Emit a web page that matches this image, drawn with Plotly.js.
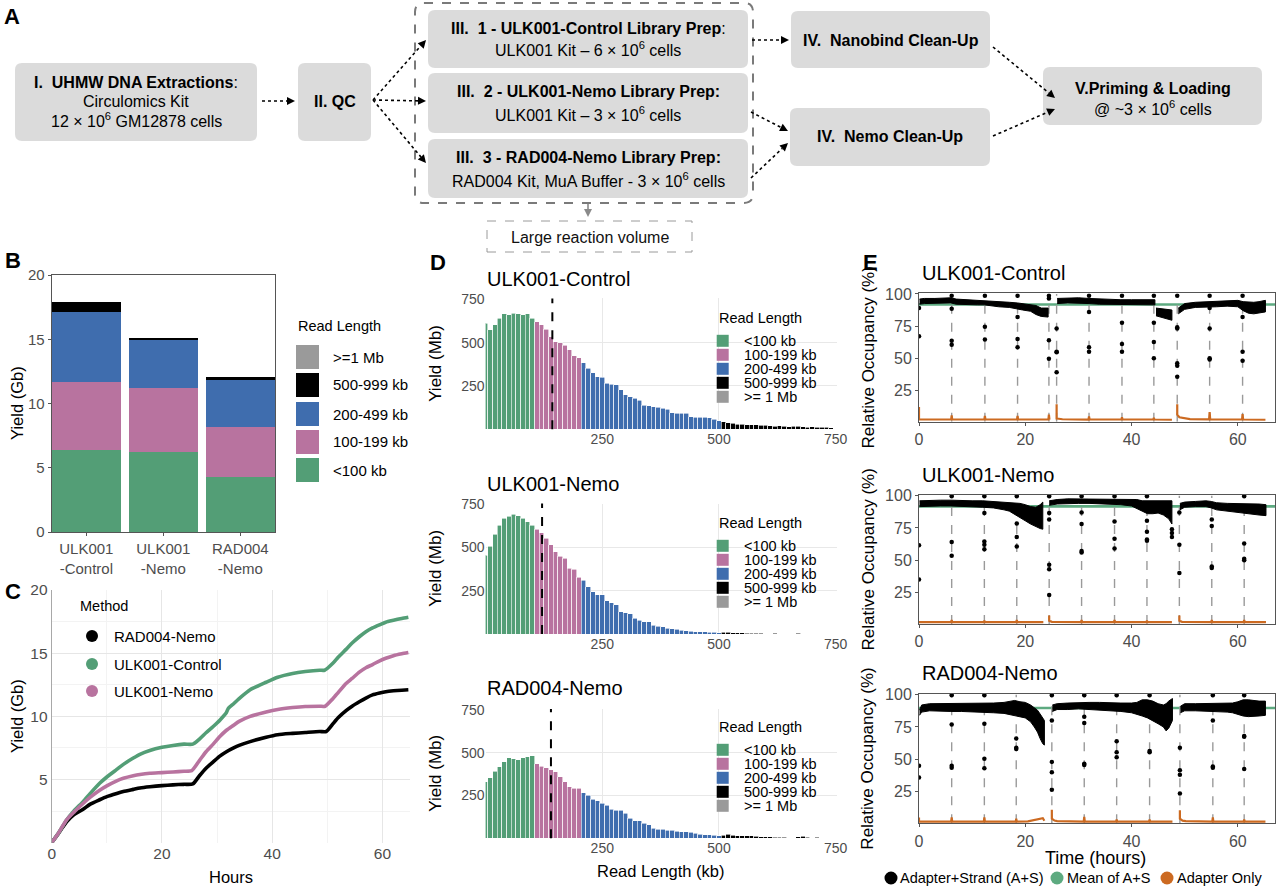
<!DOCTYPE html>
<html>
<head>
<meta charset="utf-8">
<script src="https://cdn.plot.ly/plotly-3.0.1.min.js"></script>
<style>
  html, body { margin: 0; padding: 0; background: #ffffff; }
  #fig { width: 1280px; height: 891px; }
</style>
</head>
<body>
<div id="fig"></div>
<script>
// ---------------- Panel B: total yield per read-length class (Gb) ----------------
const samples = ['ULK001<br>-Control', 'ULK001<br>-Nemo', 'RAD004<br>-Nemo'];
const yieldLt100 = [6.38, 6.25, 4.30];
const yield100to199 = [5.32, 4.98, 3.85];
const yield200to499 = [5.40, 3.71, 3.68];
const yield500to999 = [0.78, 0.13, 0.26];
const yieldGe1Mb = [0.0, 0.0, 0.0];
const classLabelsB = ['>=1 Mb', '500-999 kb', '200-499 kb', '100-199 kb', '<100 kb'];

// ---------------- Panel C: cumulative yield over the run (Gb) ----------------
const methodNames = ['RAD004-Nemo', 'ULK001-Control', 'ULK001-Nemo'];
const radHours = [0, 1, 2.7, 4, 5.7, 7, 8.7, 10, 11.8, 13, 14.8, 16, 17.8, 20, 22, 24, 25.6, 26.8, 28, 29.3, 30.5, 31.7, 33, 34, 36, 38.9, 41, 43.7, 46, 48.6, 49.8, 51, 52, 53.4, 54.5, 55.8, 57, 58.2, 59.5, 60.6, 62, 63.5, 64.7];
const radYield = [0, 0.6, 1.65, 2.2, 2.65, 3.05, 3.4, 3.65, 3.9, 4.05, 4.22, 4.33, 4.43, 4.52, 4.58, 4.62, 4.65, 5.3, 5.9, 6.4, 6.85, 7.2, 7.5, 7.7, 8.0, 8.35, 8.55, 8.65, 8.72, 8.8, 8.8, 9.4, 9.9, 10.45, 10.8, 11.15, 11.45, 11.7, 11.85, 11.95, 12.02, 12.07, 12.1];
const ctrlHours = [0, 1, 2.7, 4, 5.7, 7, 8.7, 10, 11.8, 13, 14.8, 16, 17.8, 20, 22, 24, 25.6, 26.8, 28, 29.3, 30.5, 31.7, 32, 33, 34, 36, 38.9, 41, 43.7, 46, 48.6, 49.5, 51, 52, 53.4, 54.5, 55.8, 57, 58.2, 59.5, 60.6, 62, 63.5, 64.7];
const ctrlYield = [0, 0.6, 1.8, 2.5, 3.25, 3.9, 4.7, 5.2, 5.8, 6.2, 6.7, 7.0, 7.3, 7.55, 7.7, 7.8, 7.8, 8.2, 8.7, 9.2, 9.7, 10.3, 10.6, 11.0, 11.4, 12.1, 12.7, 13.1, 13.4, 13.55, 13.65, 13.65, 14.2, 14.7, 15.3, 15.8, 16.3, 16.7, 17.0, 17.25, 17.45, 17.6, 17.75, 17.85];
const nemoHours = [0, 1, 2.7, 4, 5.7, 7, 8.7, 10, 11.8, 13, 14.8, 16, 17.8, 20, 22, 24, 25.4, 26.8, 28, 29.3, 30.5, 31.7, 33, 34, 36, 38.9, 41, 43.7, 46, 48.6, 49.6, 51, 52, 53.4, 54.5, 55.8, 57, 58.2, 59.5, 60.6, 62, 63.5, 64.7];
const nemoYield = [0, 0.6, 1.8, 2.4, 3.1, 3.6, 4.15, 4.5, 4.9, 5.1, 5.3, 5.4, 5.5, 5.55, 5.6, 5.65, 5.7, 6.5, 7.2, 7.8, 8.4, 8.9, 9.3, 9.6, 10.0, 10.35, 10.55, 10.7, 10.78, 10.8, 10.8, 11.4, 11.9, 12.6, 13.0, 13.5, 13.85, 14.1, 14.4, 14.6, 14.8, 14.95, 15.05];

// ---------------- Panel D: read-length histograms (Mb per 10 kb bin) ----------------
const binWidthKb = 10;
const classStartKb = [0, 110, 210, 510];
const classLabelsD = ['<100 kb', '100-199 kb', '200-499 kb', '500-999 kb', '>= 1 Mb'];
const ctrlHistLt100 = [611, 573, 602, 640, 665, 660, 669, 665, 660, 665, 640];
const ctrlHist100to199 = [621, 602, 577, 535, 506, 500, 486, 458, 423, 413];
const ctrlHist200to499 = [385, 352, 327, 304, 300, 265, 260, 256, 227, 198, 188, 179, 169, 140, 135, 131, 127, 121, 115, 96, 92, 92, 92, 73, 69, 69, 69, 67, 58, 48];
const ctrlHist500to999 = [44, 38, 35, 29, 29, 25, 27, 25, 23, 23, 21, 19, 21, 19, 15, 17, 19, 15, 13, 15, 12, 13, 12, 10];
const nemoHistLt100 = [457, 509, 576, 630, 669, 682, 694, 684, 669, 650, 630];
const nemoHist100to199 = [605, 586, 553, 515, 476, 451, 438, 380, 374, 328];
const nemoHist200to499 = [312, 274, 245, 226, 226, 191, 181, 168, 129, 123, 116, 91, 81, 71, 71, 52, 46, 42, 33, 29, 27, 23, 19, 17, 13, 13, 12, 10, 10, 8];
const nemoHist500to999 = [10, 10, 6, 6, 6, 4, 4, 4, 4, 2, 2, 3, 2, 2, 1, 2, 3, 2, 1, 1, 2, 1, 1, 1];
const radHistLt100 = [329, 355, 393, 417, 446, 471, 465, 459, 471, 475, 483];
const radHist100to199 = [436, 422, 411, 401, 388, 359, 329, 300, 291, 291];
const radHist200to499 = [266, 252, 227, 219, 204, 194, 169, 165, 165, 145, 116, 103, 103, 87, 78, 58, 52, 52, 48, 48, 41, 39, 39, 35, 29, 25, 21, 21, 19, 16];
const radHist500to999 = [19, 25, 19, 16, 14, 14, 14, 12, 10, 8, 8, 6, 6, 6, 4, 4, 10, 12, 6, 4, 6, 4, 4, 2];
const readN50Kb = [143, 121, 140];

// ---------------- Panel E: pore occupancy (%) ----------------
const meanOccupancy = [91.8, 91.7, 89.7];
const ctrlScanHours = [6.15, 12.4, 18.55, 24.45, 25.9, 32.0, 38.2, 44.2, 48.6, 54.7, 60.9];
const nemoScanHours = [6.15, 12.3, 18.4, 24.5, 30.6, 36.8, 42.9, 49.0, 55.1, 61.2];
const radScanHours = [6.15, 12.3, 18.3, 25.0, 31.1, 37.2, 43.4, 49.1, 55.3, 61.2];

// band of adapter+strand occupancy: upper / lower edges per run segment
const ctrlBandT = [
  [0.1, 1, 3, 5, 6, 7, 9, 11, 12.3, 13, 15, 17, 18.5, 19.5, 21, 22, 23, 24.3],
  [26, 28, 30, 32, 34, 36, 38, 40, 42, 44.4],
  [44.6, 45.5, 46.5, 47.6],
  [48.8, 50, 52, 54, 56, 58, 60, 61, 62, 63, 64, 65.2]];
const ctrlBandHi = [
  [96, 96.5, 96.5, 97, 97, 96, 95.5, 95.5, 95, 94.5, 94, 93.5, 93, 92.5, 92, 91, 89, 89],
  [96.5, 97, 97, 96.5, 96, 96, 95.5, 95.5, 95.5, 95.5],
  [89, 88.5, 88, 87.5],
  [89, 92.5, 93.5, 94, 94.5, 94.5, 95, 94, 93.5, 93.5, 94, 95]];
const ctrlBandLo = [
  [92, 92.5, 93, 93, 93, 92, 92, 91.5, 91.5, 91, 90, 89.5, 88.5, 87.5, 86.5, 84, 82.5, 82],
  [92.5, 93, 93, 92.5, 92, 92, 91.5, 91.5, 91.5, 91.5],
  [83, 82, 81, 79.5],
  [84.5, 88, 89.5, 90, 90, 90.5, 90, 87, 85, 84.5, 85, 86]];
const nemoBandT = [
  [0.1, 2, 4, 6, 8, 10, 12, 14, 16, 17, 18, 19, 20, 21, 22, 22.8, 23.3],
  [24.5, 26, 28, 30, 32, 34, 36, 38, 40, 41, 42, 43, 44, 45, 46, 47, 47.6],
  [49.1, 50, 52, 54, 55, 56, 58, 60, 62, 64, 65.3]];
const nemoBandHi = [
  [96, 96.5, 96.5, 96.5, 96, 96, 96, 95.5, 95, 95, 94.5, 94, 93, 91.5, 91, 93, 95],
  [96, 97, 97.5, 97.5, 97.5, 97.5, 97.5, 97.5, 97, 97, 96, 96, 95.5, 96, 96, 96, 96],
  [94, 95, 95.5, 96, 95.5, 94.5, 94, 94, 93.5, 93.5, 93]];
const nemoBandLo = [
  [91.5, 92, 92, 92, 91.5, 91.5, 91, 90.5, 89, 88, 86, 83, 80.5, 78, 76, 74.5, 74],
  [92.5, 93.5, 94, 94, 94, 93.5, 93.5, 93, 92, 90, 88, 86, 86, 86.5, 85, 82, 78],
  [89, 91, 91.5, 91.5, 90.5, 89, 88, 87, 86, 85, 84.5]];
const radBandT = [
  [0.1, 0.5, 2, 4, 6, 8, 10, 12, 14, 16, 17, 18, 19, 20, 21, 21.7, 22.3, 22.8, 23.3, 23.6],
  [25.1, 26, 28, 30, 32, 34, 36, 38, 40, 41, 42, 43, 44, 45, 46, 46.5, 47, 47.7],
  [49.2, 50, 52, 54, 56, 58, 59, 60, 61, 62, 63, 64, 65.2]];
const radBandHi = [
  [88, 92, 93, 93, 93.5, 93.5, 93.5, 93.5, 93.5, 94, 95, 95.5, 94.5, 94, 92, 90, 88, 85, 82, 80],
  [92, 93, 93.5, 94, 94, 94, 93.5, 93.5, 93.5, 94, 96, 96, 95, 93, 92, 93, 95, 97],
  [91, 93, 93, 93, 93.5, 93.5, 93.5, 94.5, 96, 96, 95.5, 95, 95]];
const radBandLo = [
  [84, 86.5, 87.5, 87.5, 87, 87, 87, 86.5, 86, 85.5, 84.5, 84, 83, 82, 79, 75, 71, 66, 62, 61],
  [87, 88.5, 88.5, 89, 88.5, 88, 87.5, 87, 86, 85, 83.5, 82, 80, 77.5, 75, 72, 74, 80],
  [86, 87.5, 87.5, 87.5, 87, 86.5, 86, 85, 83.5, 83, 83, 83.5, 84]];

// isolated adapter+strand readings around each scan
const ctrlOutT = [0, 0, 6.15, 6.15, 6.15, 6.15, 12.4, 12.4, 12.4, 18.55, 18.55, 18.55, 18.55, 24.45, 24.45, 24.45, 24.45, 25.9, 25.9, 25.9, 25.9, 32, 32, 32, 32, 38.2, 38.2, 38.2, 38.2, 44.2, 44.2, 44.2, 44.2, 48.6, 48.6, 48.6, 48.6, 48.6, 48.6, 54.7, 54.7, 54.7, 54.7, 54.7, 60.9, 60.9, 60.9, 60.9];
const ctrlOutV = [89, 67, 98.5, 88.5, 63.5, 60.5, 98.5, 74.5, 64.5, 98.5, 82, 65, 58.5, 98.5, 96.5, 64, 49.5, 73, 55, 54.5, 39, 98.5, 86, 58.5, 55, 98.5, 77.5, 61, 55, 98.5, 77.5, 62.5, 50, 98.5, 74, 73, 46, 44, 35.5, 98.5, 89, 73, 50, 49, 98.5, 82, 55, 48];
const nemoOutT = [0, 0, 6.15, 6.15, 6.15, 12.3, 12.3, 12.3, 12.3, 12.3, 18.4, 18.4, 18.4, 18.4, 24.5, 24.5, 24.5, 24.5, 24.5, 24.5, 30.6, 30.6, 30.6, 30.6, 30.6, 36.8, 36.8, 36.8, 36.8, 42.9, 42.9, 42.9, 42.9, 42.9, 47.6, 47.6, 47.6, 49, 49, 49, 55.1, 55.1, 55.1, 55.1, 61.2, 61.2, 61.2, 61.2];
const nemoOutV = [61.5, 35, 99.5, 64, 53.5, 99.5, 86.5, 64.5, 62, 58.5, 99.5, 78.5, 68, 60.5, 99.5, 86.5, 81.5, 46.5, 43, 23, 99.5, 87, 78, 57, 56, 99.5, 80, 66.5, 59, 99.5, 80.5, 72, 66, 65, 74, 71, 68, 87, 62, 40, 81.5, 76.5, 45, 44, 99.5, 63, 51, 50];
const radOutT = [0, 0, 6.15, 6.15, 6.15, 6.15, 12.3, 12.3, 12.3, 12.3, 18.3, 18.3, 18.3, 25, 25, 25, 25, 25, 31.1, 31.1, 31.1, 31.1, 31.1, 37.2, 37.2, 37.2, 37.2, 43.4, 43.4, 43.4, 49.1, 49.1, 49.1, 49.1, 55.3, 55.3, 55.3, 55.3, 61.2, 61.2, 61.2, 61.2];
const radOutV = [45, 36, 99.5, 77, 45, 43.5, 99.5, 77.5, 50.5, 43, 66, 59, 58, 99.5, 80, 48, 40, 26.5, 99.5, 83, 78, 46.5, 45.5, 99.5, 64, 55.5, 51.5, 99.5, 56.5, 55.5, 59, 41.5, 38, 23.5, 99.5, 80, 44.5, 43.5, 99.5, 68, 67.5, 42.5];

// adapter-only occupancy
const ctrlAdT = [0, 0, 0.4, 6.05, 6.15, 6.25, 12.3, 12.4, 12.5, 18.45, 18.55, 18.65, 24.35, 24.45, 24.55, null, 25.9, 25.9, 26.3, 27, 31.9, 32.0, 32.1, 38.1, 38.2, 38.3, 44.1, 44.2, 44.3, 47.6, null, 48.6, 48.6, 49, 50, 51, 54.6, 54.7, 54.8, 60.8, 60.9, 61.0, 65.2];
const ctrlAdV = [12, 2.2, 2.2, 2.2, 5.5, 2.2, 2.2, 5, 2.2, 2.2, 5, 2.2, 2.2, 6, 2.2, null, 14, 3, 2.8, 2.4, 2.2, 4.5, 2.2, 2.2, 4, 2.2, 2.2, 3.5, 2.2, 2, null, 14, 6, 4, 3, 2.5, 2.3, 8, 2.3, 2.2, 6.5, 2.2, 2];
const nemoAdT = [0, 6.05, 6.15, 6.25, 12.2, 12.3, 12.4, 18.3, 18.4, 18.5, 23.4, null, 24.5, 24.5, 25, 30.5, 30.6, 30.7, 36.7, 36.8, 36.9, 42.8, 42.9, 43.0, 47.6, null, 49.0, 49.0, 49.5, 55.0, 55.1, 55.2, 61.1, 61.2, 61.3, 65.3];
const nemoAdV = [2, 2, 3.5, 2, 2, 3, 2, 2, 3.5, 2, 2, null, 7, 3, 2.2, 2, 3.5, 2, 2, 3.5, 2, 2, 3, 2, 2, null, 7, 3, 2.2, 2, 3.5, 2, 2, 3.5, 2, 2];
const radAdT = [0, 0, 0.3, 6.05, 6.15, 6.25, 12.2, 12.3, 12.4, 18.2, 18.3, 18.4, 20.5, 21.5, 22.5, 23.3, 23.6, null, 25.0, 25.0, 25.5, 26, 31.0, 31.1, 31.2, 37.1, 37.2, 37.3, 43.3, 43.4, 43.5, 47.7, null, 49.1, 49.1, 49.6, 50.2, 55.2, 55.3, 55.4, 61.1, 61.2, 61.3, 65.2];
const radAdV = [5, 1.8, 1.8, 1.8, 5, 1.8, 1.8, 5, 1.8, 1.8, 4, 1.8, 2, 3, 4, 4.5, 2.5, null, 11, 4, 2.6, 2.2, 1.8, 5.5, 1.8, 1.8, 3.5, 1.8, 1.8, 3.5, 1.8, 1.8, null, 10.5, 4, 2.6, 2.2, 1.8, 5, 1.8, 1.8, 3.5, 1.8, 1.8];
const occupancyLegend = ['Adapter+Strand (A+S)', 'Mean of A+S', 'Adapter Only'];

// ---------------- styling ----------------
const W = 1280, H = 891;
const X = p => p / W;           // pixel column -> paper x
const Y = p => 1 - p / H;       // pixel row -> paper y
const domX = (a, b) => [X(a), X(b)];
const domY = (top, bottom) => [Y(bottom), Y(top)];

const FONT = 'Liberation Sans, Arial, Helvetica, sans-serif';
const TICK = '#4D4D4D';
const GREEN = '#539E76', PINK = '#B8739F', BLUE = '#3F6DAE', BLACK = '#000000', GRAY = '#9A9A9A';
const ORANGE = '#CC6A21', MEAN_GREEN = '#5DAA80';
const classColors = [GREEN, PINK, BLUE, BLACK, GRAY];

const traces = [];
const shapes = [];
const annotations = [];

function text(t, x, y, o = {}) {
  annotations.push(Object.assign({
    text: t, x: X(x), y: Y(y), xref: 'paper', yref: 'paper', showarrow: false,
    xanchor: 'center', yanchor: 'middle',
    font: { family: FONT, size: 15, color: '#000' }
  }, o));
}

// ---------- Panel B ----------
[yieldLt100, yield100to199, yield200to499, yield500to999, yieldGe1Mb].forEach((vals, i) => {
  traces.push({ type: 'bar', x: samples, y: vals, width: 0.9, marker: { color: classColors[i], line: { width: 0 } },
    xaxis: 'x', yaxis: 'y', hoverinfo: 'skip' });
});

// ---------- Panel C ----------
[[radHours, radYield, BLACK], [ctrlHours, ctrlYield, GREEN], [nemoHours, nemoYield, PINK]].forEach(([h, v, c]) => {
  traces.push({ type: 'scatter', mode: 'lines', x: h, y: v, line: { color: c, width: 3.6, shape: 'spline', smoothing: 0.6 },
    xaxis: 'x2', yaxis: 'y2', hoverinfo: 'skip' });
});

// ---------- Panel D ----------
const histSets = [
  [ctrlHistLt100, ctrlHist100to199, ctrlHist200to499, ctrlHist500to999],
  [nemoHistLt100, nemoHist100to199, nemoHist200to499, nemoHist500to999],
  [radHistLt100, radHist100to199, radHist200to499, radHist500to999]];
histSets.forEach((set, p) => {
  const ax = String(3 + p);
  set.forEach((vals, c) => {
    traces.push({ type: 'bar', x: vals.map((_, i) => classStartKb[c] + i * binWidthKb), y: vals,
      width: binWidthKb, marker: { color: classColors[c], line: { color: '#ffffff', width: 0.6 } },
      xaxis: 'x' + ax, yaxis: 'y' + ax, hoverinfo: 'skip' });
  });
  shapes.push({ type: 'line', xref: 'x' + ax, yref: 'y' + ax + ' domain', x0: readN50Kb[p], x1: readN50Kb[p],
    y0: 0, y1: 1, line: { color: '#000', width: 2, dash: 'dash' } });
});

// ---------- Panel E ----------
const occSets = [
  [ctrlBandT, ctrlBandHi, ctrlBandLo, ctrlOutT, ctrlOutV, ctrlAdT, ctrlAdV, ctrlScanHours],
  [nemoBandT, nemoBandHi, nemoBandLo, nemoOutT, nemoOutV, nemoAdT, nemoAdV, nemoScanHours],
  [radBandT, radBandHi, radBandLo, radOutT, radOutV, radAdT, radAdV, radScanHours]];
occSets.forEach(([bt, bh, bl, ot, ov, at, av, scans], p) => {
  const ax = String(6 + p);
  scans.forEach(s => shapes.push({ type: 'line', layer: 'below', xref: 'x' + ax, yref: 'y' + ax, x0: s, x1: s,
    y0: 0.5, y1: 100, line: { color: '#9A9A9A', width: 1.4, dash: 'dash' } }));
  shapes.push({ type: 'line', layer: 'below', xref: 'x' + ax + ' domain', yref: 'y' + ax, x0: 0, x1: 1,
    y0: meanOccupancy[p], y1: meanOccupancy[p], line: { color: MEAN_GREEN, width: 2.6 } });
  const px = [], py = [];
  bt.forEach((t, k) => {
    px.push(...t, ...t.slice().reverse(), null);
    py.push(...bh[k], ...bl[k].slice().reverse(), null);
  });
  traces.push({ type: 'scatter', mode: 'lines', x: px, y: py, fill: 'toself', fillcolor: '#000',
    line: { color: '#000', width: 1 }, xaxis: 'x' + ax, yaxis: 'y' + ax, hoverinfo: 'skip' });
  traces.push({ type: 'scatter', mode: 'markers', x: ot, y: ov, marker: { color: '#000', size: 4.5 },
    xaxis: 'x' + ax, yaxis: 'y' + ax, hoverinfo: 'skip' });
  traces.push({ type: 'scatter', mode: 'lines', x: at, y: av, line: { color: ORANGE, width: 2.2 },
    xaxis: 'x' + ax, yaxis: 'y' + ax, hoverinfo: 'skip' });
});

// ---------- axes ----------
const tickFont = (s) => ({ family: FONT, size: s, color: TICK });
const framed = (extra) => Object.assign({
  showline: true, mirror: true, linecolor: '#555', linewidth: 1, ticks: 'outside', ticklen: 3,
  tickcolor: '#555', showgrid: false, zeroline: false, fixedrange: true
}, extra);
const minimal = (extra) => Object.assign({
  showline: false, ticks: '', showgrid: true, gridcolor: '#E6E6E6', gridwidth: 1, zeroline: false, fixedrange: true
}, extra);

const layout = {
  width: W, height: H, margin: { l: 0, r: 0, t: 0, b: 0 },
  paper_bgcolor: '#ffffff', plot_bgcolor: 'rgba(0,0,0,0)',
  showlegend: false, barmode: 'stack', font: { family: FONT, color: '#000' },
  xaxis: framed({ domain: domX(51.7, 275), type: 'category', range: [-0.45, 2.45], tickfont: tickFont(15), anchor: 'y' }),
  yaxis: framed({ domain: domY(275, 532), range: [0, 20], tickvals: [0, 5, 10, 15, 20], tickfont: tickFont(15), anchor: 'x' }),
  xaxis2: minimal({ domain: domX(51.7, 410), range: [0, 65], tickvals: [0, 20, 40, 60], tickfont: tickFont(15.5), anchor: 'y2',
    minor: { tickvals: [10, 30, 50], showgrid: true, gridcolor: '#F3F3F3' } }),
  yaxis2: minimal({ domain: domY(590, 842.7), range: [0, 20], tickvals: [5, 10, 15, 20], tickfont: tickFont(15.5), anchor: 'x2',
    showline: true, linecolor: '#A8A8A8', minor: { tickvals: [2.5, 7.5, 12.5, 17.5], showgrid: true, gridcolor: '#F3F3F3' } }),
};
const dTops = [[298.4, 429.3], [503.5, 634], [709, 838.3]];
dTops.forEach(([t, b], p) => {
  const n = 3 + p;
  layout['xaxis' + n] = minimal({ domain: domX(485.6, 836.6), range: [0, 752], tickvals: [250, 500, 750],
    tickfont: tickFont(14), anchor: 'y' + n, gridcolor: '#E8E8E8' });
  layout['yaxis' + n] = minimal({ domain: domY(t, b), range: [0, 755], tickvals: [250, 500, 750],
    tickfont: tickFont(14), anchor: 'x' + n, gridcolor: '#E8E8E8' });
});
const eTops = [[293.3, 421.7], [495, 624], [694, 823.3]];
eTops.forEach(([t, b], p) => {
  const n = 6 + p;
  layout['xaxis' + n] = framed({ domain: domX(919, 1275), range: [0, 67], tickvals: [0, 20, 40, 60],
    tickfont: tickFont(16), anchor: 'y' + n });
  layout['yaxis' + n] = framed({ domain: domY(t, b), range: [0.5, 100.5], tickvals: [25, 50, 75, 100],
    tickfont: tickFont(16), anchor: 'x' + n });
});

// ---------- panel letters ----------
[['A', 12, 16], ['B', 13, 260], ['C', 13, 591], ['D', 438, 262], ['E', 870, 262]].forEach(([l, x, y]) =>
  text('<b>' + l + '</b>', x, y, { font: { family: FONT, size: 22, color: '#000' } }));

// ---------- Panel A: workflow ----------
function roundRect(x0, y0, x1, y1, r) {
  const P = (x, y) => X(x) + ',' + Y(y);
  return 'M' + P(x0 + r, y0) + ' L' + P(x1 - r, y0) + ' Q' + P(x1, y0) + ' ' + P(x1, y0 + r) +
    ' L' + P(x1, y1 - r) + ' Q' + P(x1, y1) + ' ' + P(x1 - r, y1) +
    ' L' + P(x0 + r, y1) + ' Q' + P(x0, y1) + ' ' + P(x0, y1 - r) +
    ' L' + P(x0, y0 + r) + ' Q' + P(x0, y0) + ' ' + P(x0 + r, y0) + ' Z';
}
const boxFill = '#DBDBDB';
const steps = [
  { box: [15, 63, 257, 141], lines: [['<b>I.\u00a0 UHMW DNA Extractions</b>:', 82], ['Circulomics Kit', 101], ['12 × 10<sup>6</sup> GM12878 cells', 120]] },
  { box: [298, 63, 371, 141], lines: [['<b>II. QC</b>', 101]] },
  { box: [428, 10, 748, 68], lines: [['<b>III.\u00a0 1 - ULK001-Control Library Prep</b>:', 29], ['ULK001 Kit – 6 × 10<sup>6</sup> cells', 49]] },
  { box: [428, 73, 748, 133], lines: [['<b>III.\u00a0 2 - ULK001-Nemo Library Prep:</b>', 92], ['ULK001 Kit – 3 × 10<sup>6</sup> cells', 114]] },
  { box: [428, 139, 748, 198], lines: [['<b>III.\u00a0 3 - RAD004-Nemo Library Prep:</b>', 158], ['RAD004 Kit, MuA Buffer - 3 × 10<sup>6</sup> cells', 180]] },
  { box: [791, 11, 990, 68], lines: [['<b>IV.\u00a0 Nanobind Clean-Up</b>', 40]] },
  { box: [790, 108, 990, 166], lines: [['<b>IV.\u00a0 Nemo Clean-Up</b>', 137]] },
  { box: [1043, 67, 1262, 125], lines: [['<b>V.Priming &amp; Loading</b>', 88], ['@ ~3 × 10<sup>6</sup> cells', 108]] },
];
shapes.push({ type: 'path', xref: 'paper', yref: 'paper', path: roundRect(415, 3, 753, 203, 9),
  line: { color: '#7A7A7A', width: 2, dash: 'dash' }, fillcolor: 'rgba(0,0,0,0)' });
steps.forEach(s => {
  const [x0, y0, x1, y1] = s.box;
  shapes.push({ type: 'path', xref: 'paper', yref: 'paper', path: roundRect(x0, y0, x1, y1, 7),
    line: { width: 0 }, fillcolor: boxFill });
  s.lines.forEach(([t, y]) => text(t, (x0 + x1) / 2, y, { font: { family: FONT, size: 16, color: '#000' } }));
});
shapes.push({ type: 'rect', xref: 'paper', yref: 'paper', x0: X(487), x1: X(692), y0: Y(252), y1: Y(221),
  line: { color: '#9A9A9A', width: 1, dash: 'dash' }, fillcolor: 'rgba(0,0,0,0)' });
text('Large reaction volume', 589.5, 237, { font: { family: FONT, size: 16, color: '#111' } });

// dotted connector with a filled triangular head at its tip
function arrow(x0, y0, x1, y1, color, dotted) {
  const L = Math.hypot(x1 - x0, y1 - y0), ux = (x1 - x0) / L, uy = (y1 - y0) / L;
  const head = 8, half = 4;
  const bx = x1 - ux * head, by = y1 - uy * head;
  shapes.push({ type: 'line', xref: 'paper', yref: 'paper', x0: X(x0), y0: Y(y0), x1: X(bx), y1: Y(by),
    line: { color: color, width: 1.6, dash: dotted ? 'dot' : 'solid' } });
  const P = (x, y) => X(x) + ',' + Y(y);
  shapes.push({ type: 'path', xref: 'paper', yref: 'paper',
    path: 'M' + P(x1, y1) + ' L' + P(bx - uy * half, by + ux * half) + ' L' + P(bx + uy * half, by - ux * half) + ' Z',
    fillcolor: color, line: { width: 0 } });
}
[[262, 101, 295, 101], [373, 100, 426, 40], [373, 100, 426, 101], [373, 100, 426, 163],
 [752, 40, 789, 40], [751, 112, 788, 131], [751, 178, 788, 143],
 [993, 47, 1055, 98], [993, 136, 1055, 109]].forEach(a => arrow(a[0], a[1], a[2], a[3], '#000', true));
arrow(588, 204, 588, 217, '#8A8A8A', false);

// ---------- Panel B legend & titles ----------
text('Read Length', 296, 326, { xanchor: 'left', font: { family: FONT, size: 14.5, color: '#000' } });
const bRows = [[345, 369], [373, 397], [402, 426], [430, 454], [458, 482]];
const bColors = [GRAY, BLACK, BLUE, PINK, GREEN];
bRows.forEach(([t, b], i) => {
  shapes.push({ type: 'rect', xref: 'paper', yref: 'paper', x0: X(296), x1: X(319), y0: Y(b), y1: Y(t),
    fillcolor: bColors[i], line: { width: 0 } });
  text(classLabelsB[i], 331, (t + b) / 2, { xanchor: 'left', font: { family: FONT, size: 15, color: '#000' } });
});
text('Yield (Gb)', 17, 403, { textangle: -90, font: { family: FONT, size: 16.5, color: '#000' } });

// ---------- Panel C legend & titles ----------
text('Method', 78, 606, { xanchor: 'left', font: { family: FONT, size: 14.5, color: '#000' } });
const cRows = [636, 664, 691];
const cColors = [BLACK, GREEN, PINK];
cRows.forEach((y, i) => {
  shapes.push({ type: 'circle', xref: 'paper', yref: 'paper', x0: X(86), x1: X(98), y0: Y(y + 6), y1: Y(y - 6),
    fillcolor: cColors[i], line: { width: 0 } });
  text(methodNames[i], 112, y, { xanchor: 'left', font: { family: FONT, size: 15, color: '#000' } });
});
text('Yield (Gb)', 17, 716, { textangle: -90, font: { family: FONT, size: 16.5, color: '#000' } });
text('Hours', 231, 877, { font: { family: FONT, size: 16.5, color: '#000' } });

// ---------- Panel D legends & titles ----------
const dTitles = ['ULK001-Control', 'ULK001-Nemo', 'RAD004-Nemo'];
const dTitleY = [279, 484, 688];
const dLegendY = [318.3, 523.3, 727.3];
const dRowOffsets = [22.5, 36.5, 50.5, 64.5, 78.5];
dTitles.forEach((t, p) => {
  text(t, 485, dTitleY[p], { xanchor: 'left', font: { family: FONT, size: 20, color: '#000' } });
  const [tp, bt] = dTops[p];
  text('Yield (Mb)', 436, (tp + bt) / 2, { textangle: -90, font: { family: FONT, size: 17, color: '#000' } });
  text('Read Length', 716.7, dLegendY[p], { xanchor: 'left', font: { family: FONT, size: 14.5, color: '#000' } });
  dRowOffsets.forEach((off, i) => {
    const yc = dLegendY[p] + off;
    shapes.push({ type: 'rect', xref: 'paper', yref: 'paper', x0: X(716.7), x1: X(728.7), y0: Y(yc + 6), y1: Y(yc - 6),
      fillcolor: classColors[i], line: { width: 0 } });
    text(classLabelsD[i], 741.7, yc, { xanchor: 'left', font: { family: FONT, size: 14.5, color: '#000' } });
  });
});
text('Read Length (kb)', 661, 871, { font: { family: FONT, size: 16.5, color: '#000' } });

// ---------- Panel E legend & titles ----------
const eTitleY = [273, 475, 673];
dTitles.forEach((t, p) => {
  text(t, 920, eTitleY[p], { xanchor: 'left', font: { family: FONT, size: 20, color: '#000' } });
  const [tp, bt] = eTops[p];
  text('Relative Occupancy (%)', 868, (tp + bt) / 2, { textangle: -90, font: { family: FONT, size: 17, color: '#000' } });
});
text('Time (hours)', 1095, 858, { font: { family: FONT, size: 18, color: '#000' } });
const eLegX = [[891, 898], [1057, 1065], [1167, 1175]];
const eLegColors = [BLACK, MEAN_GREEN, ORANGE];
eLegX.forEach(([cx, tx], i) => {
  shapes.push({ type: 'circle', xref: 'paper', yref: 'paper', x0: X(cx - 6.5), x1: X(cx + 6.5), y0: Y(878 + 6.5), y1: Y(878 - 6.5),
    fillcolor: eLegColors[i], line: { width: 0 } });
  text(occupancyLegend[i], tx, 878, { xanchor: 'left', font: { family: FONT, size: 14.5, color: '#000' } });
});

layout.shapes = shapes;
layout.annotations = annotations;

Plotly.newPlot('fig', traces, layout, { staticPlot: true, displayModeBar: false });
</script>
</body>
</html>
